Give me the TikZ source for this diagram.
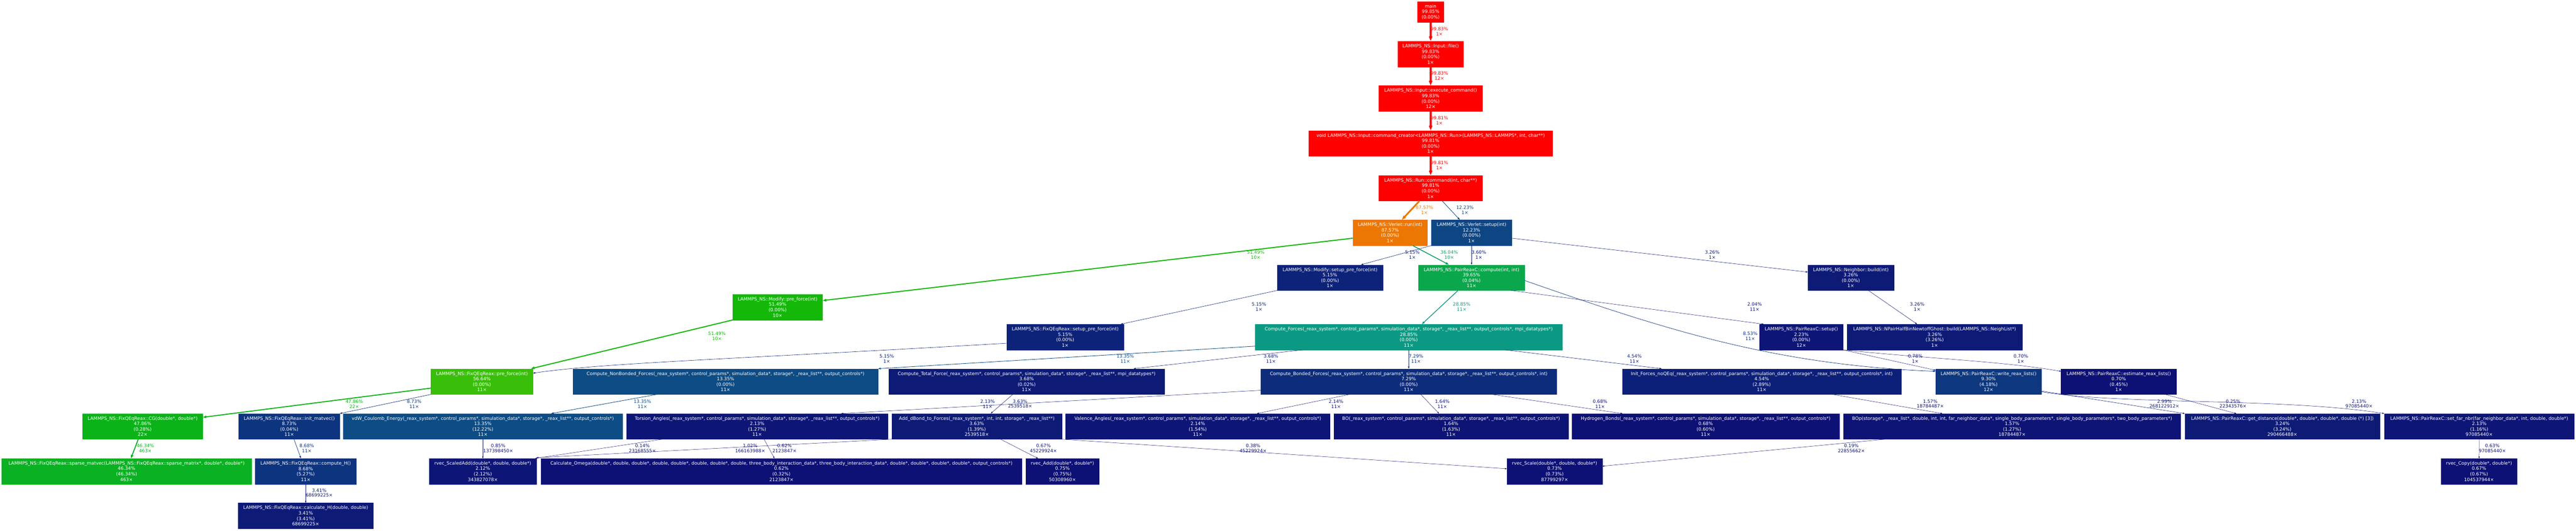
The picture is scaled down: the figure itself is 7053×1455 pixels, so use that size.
\documentclass[tikz,border=0pt]{standalone}
\usepackage{fontspec}
\setmainfont{DejaVu Sans}
\usepackage{xcolor}
\usepackage{tikz}
\usetikzlibrary{arrows.meta}

\definecolor{cRed}{RGB}{255,0,0}
\definecolor{cOrange}{RGB}{236,119,3}
\definecolor{cQEqPre}{RGB}{57,191,9}
\definecolor{cModPre}{RGB}{20,184,9}
\definecolor{cCG}{RGB}{10,179,24}
\definecolor{cSparse}{RGB}{10,177,34}
\definecolor{cPair}{RGB}{11,167,76}
\definecolor{cVerPair}{RGB}{11,162,96}
\definecolor{cForces}{RGB}{12,153,131}
\definecolor{cNonB}{RGB}{13,76,132}
\definecolor{cSetup}{RGB}{13,70,131}
\definecolor{cWrite}{RGB}{13,55,127}
\definecolor{cMatvec}{RGB}{13,52,126}
\definecolor{cBonded}{RGB}{13,45,124}
\definecolor{cFive}{RGB}{13,35,121}
\definecolor{cInit}{RGB}{13,32,121}
\definecolor{cThree}{RGB}{13,27,119}
\definecolor{cTwo}{RGB}{13,22,118}
\definecolor{cOne}{RGB}{13,20,117}
\definecolor{cLow}{RGB}{13,16,116}

\tikzset{fn/.style={rectangle, fill=#1, draw=#1, line width=0.5pt, text=white, align=center, inner sep=0pt, minimum height=70pt}}
\tikzstyle{lab} = [align=center, inner sep=0pt, font=\fontsize{12.5}{14}\selectfont]
\tikzstyle{hot} = [draw=cRed, text=cRed, line width=5pt, -{Triangle[length=13pt,width=9pt]}]
\tikzstyle{warm} = [draw=cOrange, text=cOrange, line width=4.5pt, -{Triangle[length=12pt,width=8.5pt]}]
\tikzstyle{qeqarrow} = [draw=cModPre, text=cModPre, line width=2.9pt, -{Triangle[length=10pt,width=7pt]}]
\tikzstyle{cgarrow} = [draw=cCG, text=cCG, line width=2.7pt, -{Triangle[length=9.5pt,width=6.6pt]}]
\tikzstyle{sparsearrow} = [draw=cSparse, text=cSparse, line width=2.7pt, -{Triangle[length=9.5pt,width=6.6pt]}]
\tikzstyle{pairarrow} = [draw=cVerPair, text=cVerPair, line width=2.2pt, -{Triangle[length=9pt,width=6.3pt]}]
\tikzstyle{forcearrow} = [draw=cForces, text=cForces, line width=1.9pt, -{Triangle[length=8pt,width=5.6pt]}]
\tikzstyle{nonbarrow} = [draw=cNonB, text=cNonB, line width=1.2pt, -{Triangle[length=7pt,width=4.9pt]}]
\tikzstyle{setuparrow} = [draw=cSetup, text=cSetup, line width=1.2pt, -{Triangle[length=7pt,width=4.9pt]}]
\tikzstyle{matarrow} = [draw=cMatvec, text=cMatvec, line width=1pt, -{Triangle[length=6.3pt,width=4.4pt]}]
\tikzstyle{bondarrow} = [draw=cBonded, text=cBonded, line width=0.95pt, -{Triangle[length=6pt,width=4.2pt]}]
\tikzstyle{fivearrow} = [draw=cFive, text=cFive, line width=0.85pt, -{Triangle[length=5.8pt,width=4pt]}]
\tikzstyle{fourarrow} = [draw=cInit, text=cInit, line width=0.83pt, -{Triangle[length=5.7pt,width=4pt]}]
\tikzstyle{threearrow} = [draw=cThree, text=cThree, line width=0.78pt, -{Triangle[length=5.5pt,width=3.8pt]}]
\tikzstyle{twoarrow} = [draw=cTwo, text=cTwo, line width=0.71pt, -{Triangle[length=5.2pt,width=3.6pt]}]
\tikzstyle{onearrow} = [draw=cOne, text=cOne, line width=0.69pt, -{Triangle[length=5pt,width=3.5pt]}]
\tikzstyle{lowarrow} = [draw=cLow, text=cLow, line width=0.66pt, -{Triangle[length=5pt,width=3.5pt]}]

\begin{document}
\begin{tikzpicture}[x=1pt, y=-1pt, every node/.style={font=\fontsize{12.5}{14.9}\selectfont}]
	\path[use as bounding box, fill=white] (0,0) rectangle (7053,1455);

	% call chain from main
	\node (Main) [fn=cRed, minimum width=72pt, minimum height=57pt] at (3917,32.5) {main\\99.85\%\\(0.00\%)};
	\node (InputFile) [fn=cRed, minimum width=180pt] at (3917,148) {LAMMPS\_NS::Input::file()\\99.83\%\\(0.00\%)\\1×};
	\node (ExecCmd) [fn=cRed, minimum width=284pt] at (3917,270) {LAMMPS\_NS::Input::execute\_command()\\99.83\%\\(0.00\%)\\12×};
	\node (Creator) [fn=cRed, minimum width=668pt] at (3917,393) {void LAMMPS\_NS::Input::command\_creator<LAMMPS\_NS::Run>(LAMMPS\_NS::LAMMPS*, int, char**)\\99.81\%\\(0.00\%)\\1×};
	\node (RunCmd) [fn=cRed, minimum width=284pt] at (3917,516) {LAMMPS\_NS::Run::command(int, char**)\\99.81\%\\(0.00\%)\\1×};
	\node (VerletRun) [fn=cOrange, minimum width=204pt] at (3806,638) {LAMMPS\_NS::Verlet::run(int)\\87.57\%\\(0.00\%)\\1×};
	\node (VerletSetup) [fn=cSetup, minimum width=220pt] at (4029,638) {LAMMPS\_NS::Verlet::setup(int)\\12.23\%\\(0.00\%)\\1×};
	\node (ModSetupPre) [fn=cFive, minimum width=289pt] at (3641.5,761) {LAMMPS\_NS::Modify::setup\_pre\_force(int)\\5.15\%\\(0.00\%)\\1×};
	\node (PairCompute) [fn=cPair, minimum width=290pt] at (4029,761) {LAMMPS\_NS::PairReaxC::compute(int, int)\\39.65\%\\(0.04\%)\\11×};
	\node (NeighBuild) [fn=cThree, minimum width=235pt] at (5067.5,761) {LAMMPS\_NS::Neighbor::build(int)\\3.26\%\\(0.00\%)\\1×};
	\node (ModPre) [fn=cModPre, minimum width=246pt] at (2129,842) {LAMMPS\_NS::Modify::pre\_force(int)\\51.49\%\\(0.00\%)\\10×};
	\node (QEqSetupPre) [fn=cFive, minimum width=321pt] at (2916.5,924) {LAMMPS\_NS::FixQEqReax::setup\_pre\_force(int)\\5.15\%\\(0.00\%)\\1×};
	\node (ComputeForces) [fn=cForces, minimum width=840pt] at (3857,924) {Compute\_Forces(\_reax\_system*, control\_params*, simulation\_data*, storage*, \_reax\_list**, output\_controls*, mpi\_datatypes*)\\28.85\%\\(0.00\%)\\11×};
	\node (PairSetup) [fn=cTwo, minimum width=228pt] at (4932,924) {LAMMPS\_NS::PairReaxC::setup()\\2.23\%\\(0.00\%)\\12×};
	\node (NPairBuild) [fn=cThree, minimum width=480pt] at (5297,924) {LAMMPS\_NS::NPairHalfBinNewtoffGhost::build(LAMMPS\_NS::NeighList*)\\3.26\%\\(3.26\%)\\1×};

	% charge equilibration and force routines
	\node (QEqPre) [fn=cQEqPre, minimum width=279pt] at (1319.5,1046) {LAMMPS\_NS::FixQEqReax::pre\_force(int)\\56.64\%\\(0.00\%)\\11×};
	\node (NonBonded) [fn=cNonB, minimum width=835pt] at (1986.5,1046) {Compute\_NonBonded\_Forces(\_reax\_system*, control\_params*, simulation\_data*, storage*, \_reax\_list**, output\_controls*)\\13.35\%\\(0.00\%)\\11×};
	\node (TotalForce) [fn=cThree, minimum width=754pt] at (2811,1046) {Compute\_Total\_Force(\_reax\_system*, control\_params*, simulation\_data*, storage*, \_reax\_list**, mpi\_datatypes*)\\3.68\%\\(0.02\%)\\11×};
	\node (Bonded) [fn=cBonded, minimum width=810pt] at (3857,1046) {Compute\_Bonded\_Forces(\_reax\_system*, control\_params*, simulation\_data*, storage*, \_reax\_list**, output\_controls*, int)\\7.29\%\\(0.00\%)\\11×};
	\node (InitForces) [fn=cInit, minimum width=763pt] at (4823.5,1046) {Init\_Forces\_noQEq(\_reax\_system*, control\_params*, simulation\_data*, storage*, \_reax\_list**, output\_controls*, int)\\4.54\%\\(2.89\%)\\11×};
	\node (WriteLists) [fn=cWrite, minimum width=289pt] at (5444.5,1046) {LAMMPS\_NS::PairReaxC::write\_reax\_lists()\\9.30\%\\(4.18\%)\\12×};
	\node (EstimateLists) [fn=cLow, minimum width=316pt] at (5801,1046) {LAMMPS\_NS::PairReaxC::estimate\_reax\_lists()\\0.70\%\\(0.45\%)\\1×};
	\node (QEqCG) [fn=cCG, minimum width=329pt] at (390.5,1169) {LAMMPS\_NS::FixQEqReax::CG(double*, double*)\\47.86\%\\(0.28\%)\\22×};
	\node (InitMatvec) [fn=cMatvec, minimum width=276pt] at (792,1169) {LAMMPS\_NS::FixQEqReax::init\_matvec()\\8.73\%\\(0.04\%)\\11×};
	\node (VdW) [fn=cNonB, minimum width=764pt] at (1322,1169) {vdW\_Coulomb\_Energy(\_reax\_system*, control\_params*, simulation\_data*, storage*, \_reax\_list**, output\_controls*)\\13.35\%\\(12.22\%)\\11×};
	\node (Torsion) [fn=cTwo, minimum width=716pt] at (2073,1169) {Torsion\_Angles(\_reax\_system*, control\_params*, simulation\_data*, storage*, \_reax\_list**, output\_controls*)\\2.13\%\\(1.27\%)\\11×};
	\node (AddDBond) [fn=cThree, minimum width=465pt] at (2674.5,1169) {Add\_dBond\_to\_Forces(\_reax\_system*, int, int, storage*, \_reax\_list**)\\3.63\%\\(1.39\%)\\2539518×};
	\node (Valence) [fn=cTwo, minimum width=723pt] at (3279.5,1169) {Valence\_Angles(\_reax\_system*, control\_params*, simulation\_data*, storage*, \_reax\_list**, output\_controls*)\\2.14\%\\(1.54\%)\\11×};
	\node (BondOrder) [fn=cOne, minimum width=642pt] at (3973,1169) {BO(\_reax\_system*, control\_params*, simulation\_data*, storage*, \_reax\_list**, output\_controls*)\\1.64\%\\(1.63\%)\\11×};
	\node (HBonds) [fn=cLow, minimum width=732pt] at (4670,1169) {Hydrogen\_Bonds(\_reax\_system*, control\_params*, simulation\_data*, storage*, \_reax\_list**, output\_controls*)\\0.68\%\\(0.60\%)\\11×};
	\node (BOp) [fn=cOne, minimum width=922pt] at (5509,1169) {BOp(storage*, \_reax\_list*, double, int, int, far\_neighbor\_data*, single\_body\_parameters*, single\_body\_parameters*, two\_body\_parameters*)\\1.57\%\\(1.27\%)\\18784487×};
	\node (GetDist) [fn=cThree, minimum width=534pt] at (6249,1169) {LAMMPS\_NS::PairReaxC::get\_distance(double*, double*, double*, double (*) [3])\\3.24\%\\(3.24\%)\\290466488×};
	\node (SetFarNbr) [fn=cTwo, minimum width=520pt] at (6788,1169) {LAMMPS\_NS::PairReaxC::set\_far\_nbr(far\_neighbor\_data*, int, double, double*)\\2.13\%\\(1.16\%)\\97085440×};

	% leaf routines
	\node (SparseMatvec) [fn=cSparse, minimum width=685pt] at (346.5,1292) {LAMMPS\_NS::FixQEqReax::sparse\_matvec(LAMMPS\_NS::FixQEqReax::sparse\_matrix*, double*, double*)\\46.34\%\\(46.34\%)\\463×};
	\node (ComputeH) [fn=cMatvec, minimum width=276pt] at (837,1292) {LAMMPS\_NS::FixQEqReax::compute\_H()\\8.68\%\\(5.27\%)\\11×};
	\node (ScaledAdd) [fn=cTwo, minimum width=294pt] at (1322,1292) {rvec\_ScaledAdd(double*, double, double*)\\2.12\%\\(2.12\%)\\343827078×};
	\node (CalcOmega) [fn=cLow, minimum width=1317pt] at (2139.5,1292) {Calculate\_Omega(double*, double, double*, double, double*, double, double*, double, three\_body\_interaction\_data*, three\_body\_interaction\_data*, double*, double*, double*, double*, output\_controls*)\\0.62\%\\(0.32\%)\\2123847×};
	\node (RvecAdd) [fn=cLow, minimum width=200pt] at (2909,1292) {rvec\_Add(double*, double*)\\0.75\%\\(0.75\%)\\50308960×};
	\node (RvecScale) [fn=cLow, minimum width=261pt] at (4256.5,1292) {rvec\_Scale(double*, double, double*)\\0.73\%\\(0.73\%)\\87799297×};
	\node (RvecCopy) [fn=cLow, minimum width=207pt] at (6787.5,1292) {rvec\_Copy(double*, double*)\\0.67\%\\(0.67\%)\\104537944×};
	\node (CalcH) [fn=cThree, minimum width=370pt] at (837,1414) {LAMMPS\_NS::FixQEqReax::calculate\_H(double, double)\\3.41\%\\(3.41\%)\\68699225×};

	% calls
	\draw [hot] (Main) -- (InputFile) node[lab] at (3941,86) {99.83\%\\1×};
	\draw [hot] (InputFile) -- (ExecCmd) node[lab] at (3941,208) {99.83\%\\12×};
	\draw [hot] (ExecCmd) -- (Creator) node[lab] at (3941,331) {99.81\%\\1×};
	\draw [hot] (Creator) -- (RunCmd) node[lab] at (3941,453) {99.81\%\\1×};
	\draw [warm] ([xshift=-31pt]RunCmd.south) -- ([xshift=32pt]VerletRun.north) node[lab] at (3900,576) {87.57\%\\1×};
	\draw [setuparrow] ([xshift=32pt]RunCmd.south) -- ([xshift=-32pt]VerletSetup.north) node[lab] at (4011,576) {12.23\%\\1×};
	\draw [qeqarrow] ([yshift=-15pt]VerletRun.west) -- ([yshift=18pt]ModPre.east) node[lab] at (3438,699) {51.49\%\\10×};
	\draw [pairarrow] ([xshift=62pt]VerletRun.south) -- ([xshift=-62pt]PairCompute.north) node[lab] at (3968,699) {36.04\%\\10×};
	\draw [fivearrow] (VerletSetup.south west) -- ([xshift=85pt]ModSetupPre.north) node[lab] at (3867,699) {5.15\%\\1×};
	\draw [threearrow] (VerletSetup) -- (PairCompute) node[lab] at (4049,699) {3.60\%\\1×};
	\draw [threearrow] ([yshift=-15pt]VerletSetup.east) -- ([yshift=15pt]NeighBuild.west) node[lab] at (4688,699) {3.26\%\\1×};
	\draw [fivearrow] (ModSetupPre.south west) -- ([xshift=152pt]QEqSetupPre.north) node[lab] at (3447,841) {5.15\%\\1×};
	\draw [qeqarrow] (ModPre.south west) -- ([xshift=134pt]QEqPre.north) node[lab] at (1963,922) {51.49\%\\10×};
	\draw [fivearrow] ([yshift=-17pt]QEqSetupPre.west) .. controls (2000,985) and (1650,995) .. ([yshift=23pt]QEqPre.east) node[lab] at (2428,984) {5.15\%\\1×};
	\draw [cgarrow] ([yshift=-18pt]QEqPre.west) -- ([yshift=25pt]QEqCG.east) node[lab] at (970,1107) {47.86\%\\22×};
	\draw [matarrow] (QEqPre.south west) -- (InitMatvec.north east) node[lab] at (1134,1107) {8.73\%\\11×};
	\draw [sparsearrow] ([xshift=-12pt]QEqCG.south) -- ([xshift=12pt]SparseMatvec.north) node[lab] at (398,1229) {46.34\%\\463×};
	\draw [matarrow] ([xshift=13pt]InitMatvec.south) -- ([xshift=-13pt]ComputeH.north) node[lab] at (840,1229) {8.68\%\\11×};
	\draw [threearrow] (ComputeH) -- (CalcH) node[lab] at (874,1351) {3.41\%\\68699225×};
	\draw [forcearrow] ([xshift=-37pt]PairCompute.south) -- ([xshift=36pt]ComputeForces.north) node[lab] at (4002,841) {28.85\%\\11×};
	\draw [twoarrow] ([xshift=108pt]PairCompute.south) -- ([xshift=-103pt]PairSetup.north) node[lab] at (4804,841) {2.04\%\\11×};
	\draw [matarrow] ([yshift=-8pt]PairCompute.east) .. controls (4550,900) and (4850,1000) .. ([yshift=28pt]WriteLists.west) node[lab] at (4792,922) {8.53\%\\11×};
	\draw [threearrow] ([xshift=48pt]NeighBuild.south) -- ([xshift=-48pt]NPairBuild.north) node[lab] at (5249,841) {3.26\%\\1×};
	\draw [nonbarrow] ([yshift=-25pt]ComputeForces.west) -- (NonBonded.north east) node[lab] at (3081,984) {13.35\%\\11×};
	\draw [threearrow] ([xshift=-291pt]ComputeForces.south) -- ([xshift=293pt]TotalForce.north) node[lab] at (3480,984) {3.68\%\\11×};
	\draw [bondarrow] (ComputeForces) -- (Bonded) node[lab] at (3877,984) {7.29\%\\11×};
	\draw [fourarrow] ([xshift=265pt]ComputeForces.south) -- ([xshift=-274pt]InitForces.north) node[lab] at (4475,984) {4.54\%\\11×};
	\draw [nonbarrow] ([xshift=-188pt]NonBonded.south) -- ([xshift=187pt]VdW.north) node[lab] at (1759,1107) {13.35\%\\11×};
	\draw [lowarrow] (VdW) -- (ScaledAdd) node[lab] at (1364,1229) {0.85\%\\137398450×};
	\draw [threearrow] ([xshift=-38pt]TotalForce.south) -- ([xshift=38pt]AddDBond.north) node[lab] at (2793,1107) {3.63\%\\2539518×};
	\draw [twoarrow] ([yshift=-24pt]Bonded.west) -- ([xshift=230pt]Torsion.north) node[lab] at (2704,1107) {2.13\%\\11×};
	\draw [twoarrow] ([xshift=-162pt]Bonded.south) -- ([xshift=162pt]Valence.north) node[lab] at (3658,1107) {2.14\%\\11×};
	\draw [onearrow] ([xshift=33pt]Bonded.south) -- ([xshift=-33pt]BondOrder.north) node[lab] at (3949,1107) {1.64\%\\11×};
	\draw [lowarrow] ([xshift=228pt]Bonded.south) -- ([xshift=-228pt]HBonds.north) node[lab] at (4381,1107) {0.68\%\\11×};
	\draw [lowarrow] ([xshift=-260pt]Torsion.south) -- ([xshift=-4pt]ScaledAdd.north east) node[lab] at (1759,1229) {0.14\%\\23168555×};
	\draw [lowarrow] ([xshift=19pt]Torsion.south) -- ([xshift=-19pt]CalcOmega.north) node[lab] at (2148,1229) {0.62\%\\2123847×};
	\draw [lowarrow] (AddDBond.south west) -- ([yshift=2pt]ScaledAdd.north east) node[lab] at (2054,1229) {1.02\%\\166163988×};
	\draw [lowarrow] ([xshift=65pt]AddDBond.south) -- ([xshift=-67pt]RvecAdd.north) node[lab] at (2857,1229) {0.67\%\\45229924×};
	\draw [lowarrow] (AddDBond.south east) -- ([yshift=7pt]RvecScale.west) node[lab] at (3431,1229) {0.38\%\\45229924×};
	\draw [onearrow] ([xshift=194pt]InitForces.south) -- ([xshift=-191pt]BOp.north) node[lab] at (5285,1107) {1.57\%\\18784487×};
	\draw [lowarrow] ([xshift=-348pt]BOp.south) -- ([yshift=14pt]RvecScale.east) node[lab] at (5069,1229) {0.19\%\\22855662×};
	\draw [lowarrow] (PairSetup.south east) -- ([yshift=31pt]WriteLists.west) node[lab] at (5244,984) {0.78\%\\1×};
	\draw [lowarrow] (PairSetup.south east) .. controls (5300,985) and (5480,990) .. ([yshift=28pt]EstimateLists.west) node[lab] at (5533,984) {0.70\%\\1×};
	\draw [threearrow] ([yshift=-26pt]WriteLists.east) -- (GetDist.north west) node[lab] at (5926,1107) {2.99\%\\268122912×};
	\draw [twoarrow] ([yshift=-28pt]WriteLists.east) .. controls (5800,1110) and (6250,1090) .. (SetFarNbr.north west) node[lab] at (6459,1107) {2.13\%\\97085440×};
	\draw [lowarrow] ([xshift=127pt]EstimateLists.south) -- ([xshift=-126pt]GetDist.north) node[lab] at (6114,1107) {0.25\%\\22343576×};
	\draw [lowarrow] (SetFarNbr) -- (RvecCopy) node[lab] at (6824,1229) {0.63\%\\97085440×};
\end{tikzpicture}
\end{document}
